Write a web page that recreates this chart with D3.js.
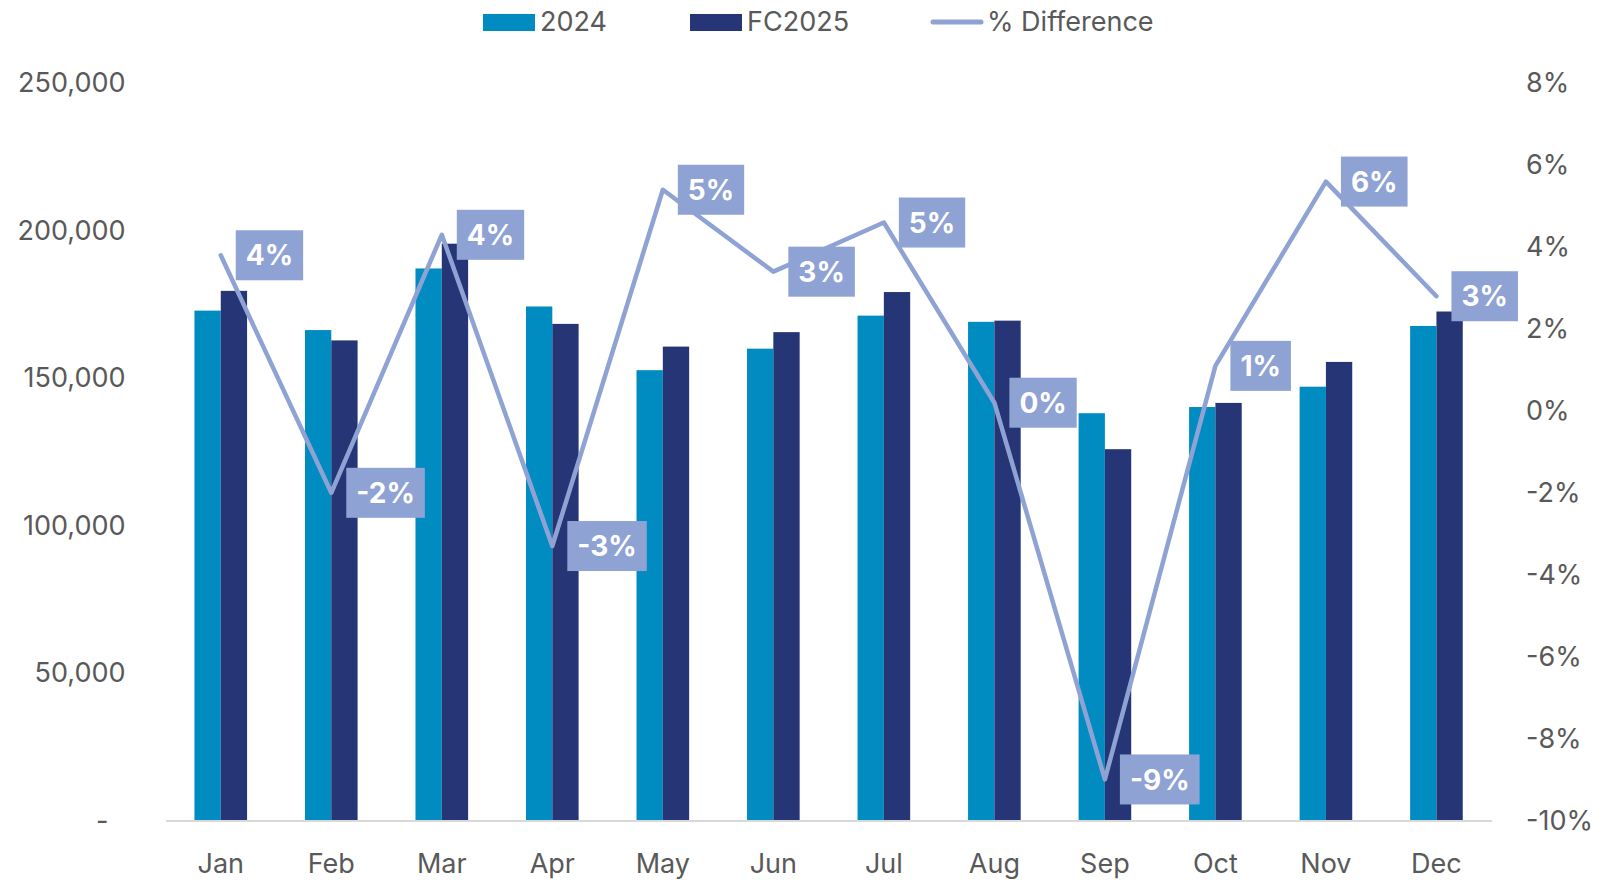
<!DOCTYPE html>
<html>
<head>
<meta charset="utf-8">
<script src="https://cdn.jsdelivr.net/npm/d3@7"></script>
<style>
  body { margin: 0; background: #fff; }
  text { font-family: Inter, "Open Sans", sans-serif; }
</style>
</head>
<body>
<svg id="chart" width="1612" height="882"></svg>
<script>
// data
var months = ["Jan", "Feb", "Mar", "Apr", "May", "Jun", "Jul", "Aug", "Sep", "Oct", "Nov", "Dec"];
var sales2024 = [172900, 166300, 187200, 174300, 152700, 160000, 171200, 169100, 138100, 140200, 147100, 167700];
var fc2025 = [179600, 162800, 195600, 168400, 160700, 165600, 179200, 169500, 125900, 141600, 155500, 172600];
var pctDiff = [3.8, -2.0, 4.3, -3.3, 5.4, 3.4, 4.6, 0.2, -9.0, 1.1, 5.6, 2.8];
var pctLabels = ["4%", "-2%", "4%", "-3%", "5%", "3%", "5%", "0%", "-9%", "1%", "6%", "3%"];
var leftTicks = [0, 50000, 100000, 150000, 200000, 250000];
var rightTicks = [-10, -8, -6, -4, -2, 0, 2, 4, 6, 8];
var seriesNames = ["2024", "FC2025"];

var C2024 = "#008bc1", CFC = "#253575", CLINE = "#8fa2d4", GREY = "#595959";

var svg = d3.select("#chart");
var plotLeft = 165.5, plotRight = 1491.7, plotTop = 83.3, plotBottom = 820.4;

var x = d3.scaleBand().domain(months).range([plotLeft, plotRight]);
var bw = x.bandwidth();
var barW = bw / 4.2;
var x1 = d3.scaleBand().domain(seriesNames).range([bw / 2 - barW, bw / 2 + barW]);
var yL = d3.scaleLinear().domain([0, 250000]).range([plotBottom, plotTop]);
var yR = d3.scaleLinear().domain([-10, 8]).range([plotBottom, plotTop]);

// left axis
var gl = svg.append("g")
    .attr("transform", "translate(125.5,0)")
    .call(d3.axisLeft(yL).tickValues(leftTicks).tickSize(0).tickPadding(0)
      .tickFormat(function(d) { return d === 0 ? "-" : d3.format(",")(d); }));
gl.select(".domain").remove();
gl.selectAll("text").attr("fill", GREY).style("font-size", "27px")
    .attr("dx", function(d) { return d === 0 ? -17 : 0; });

// right axis
var gr = svg.append("g")
    .attr("transform", "translate(1526,0)")
    .call(d3.axisRight(yR).tickValues(rightTicks).tickSize(0).tickPadding(0)
      .tickFormat(function(d) { return d + "%"; }));
gr.select(".domain").remove();
gr.selectAll("text").attr("fill", GREY).style("font-size", "27px");

// bars
var groups = svg.append("g").selectAll("g")
    .data(months)
    .enter().append("g")
    .attr("transform", function(d) { return "translate(" + x(d) + ",0)"; });

groups.append("rect")
    .attr("x", x1("2024"))
    .attr("width", x1.bandwidth())
    .attr("y", function(d, i) { return yL(sales2024[i]); })
    .attr("height", function(d, i) { return plotBottom - yL(sales2024[i]); })
    .attr("fill", C2024);

groups.append("rect")
    .attr("x", x1("FC2025"))
    .attr("width", x1.bandwidth())
    .attr("y", function(d, i) { return yL(fc2025[i]); })
    .attr("height", function(d, i) { return plotBottom - yL(fc2025[i]); })
    .attr("fill", CFC);

// bottom axis
var gb = svg.append("g")
    .attr("transform", "translate(0," + plotBottom + ")")
    .call(d3.axisBottom(x).tickSize(0).tickSizeOuter(0).tickPadding(33));
gb.select(".domain").attr("stroke", "#d9d9d9").attr("stroke-width", 2);
gb.selectAll("text").attr("fill", GREY).style("font-size", "27px");

// % difference line
var line = d3.line()
    .x(function(d, i) { return x(months[i]) + bw / 2; })
    .y(function(d) { return yR(d); });

svg.append("path")
    .datum(pctDiff)
    .attr("d", line)
    .attr("fill", "none")
    .attr("stroke", CLINE)
    .attr("stroke-width", 4.5)
    .attr("stroke-linejoin", "round")
    .attr("stroke-linecap", "round");

// data labels
var lab = svg.append("g").selectAll("g")
    .data(pctDiff)
    .enter().append("g")
    .attr("transform", function(d, i) {
      return "translate(" + (x(months[i]) + bw / 2 + 15) + "," + yR(d) + ")";
    });

var boxes = lab.append("rect").attr("fill", CLINE);
var ltext = lab.append("text")
    .attr("x", 10)
    .attr("dy", "0.36em")
    .attr("fill", "#fff")
    .style("font-size", "28px")
    .style("font-weight", "bold")
    .text(function(d, i) { return pctLabels[i]; });
ltext.each(function(d, i) {
  var w = this.getComputedTextLength();
  d3.select(boxes.nodes()[i])
    .attr("x", 0).attr("y", -25)
    .attr("width", w + 20).attr("height", 50);
});

// legend
var legend = svg.append("g");
var legItems = [
  { name: "2024", x: 483, kind: "rect", color: C2024 },
  { name: "FC2025", x: 690, kind: "rect", color: CFC },
  { name: "% Difference", x: 930, kind: "line", color: CLINE }
];
legItems.forEach(function(it) {
  if (it.kind === "rect") {
    legend.append("rect").attr("x", it.x).attr("y", 14).attr("width", 52).attr("height", 17).attr("fill", it.color);
  } else {
    legend.append("line").attr("x1", it.x + 3).attr("x2", it.x + 51).attr("y1", 22).attr("y2", 22)
      .attr("stroke", it.color).attr("stroke-width", 5).attr("stroke-linecap", "round");
  }
  legend.append("text").attr("x", it.x + 57).attr("y", 21).attr("dy", "0.36em")
    .attr("fill", GREY).style("font-size", "27px").text(it.name);
});
</script>
</body>
</html>
